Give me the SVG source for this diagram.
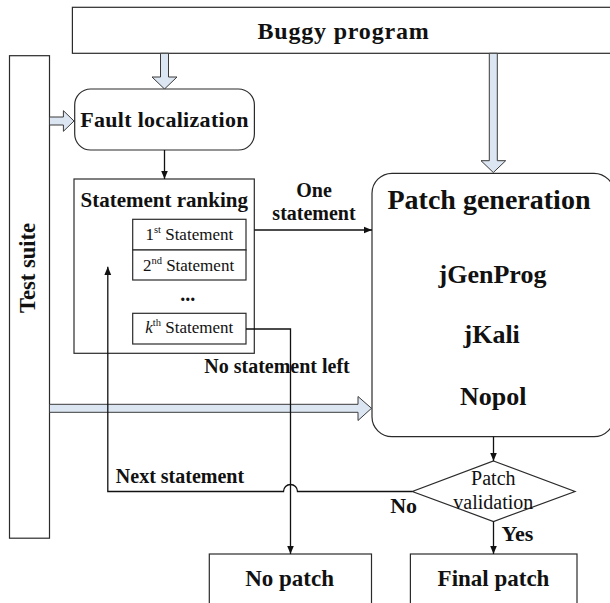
<svg xmlns="http://www.w3.org/2000/svg" width="610" height="603" viewBox="0 0 610 603">
  <style>
    .box { fill: #ffffff; stroke: #2b2b2b; stroke-width: 1.2; }
    .hollow { fill: #dce6f2; stroke: #3a3a3a; stroke-width: 1; }
    .conn { fill: none; stroke: #111111; stroke-width: 1.3; }
    .lbl { font-family: "Liberation Serif", "Times New Roman", serif; font-weight: bold; fill: #111111; }
    .reg { font-family: "Liberation Serif", "Times New Roman", serif; fill: #111111; }
  </style>
  <defs>
    <marker id="arrow" markerWidth="9" markerHeight="8" refX="8.5" refY="4" orient="auto" markerUnits="userSpaceOnUse">
      <path d="M0,0.5 L8.5,4 L0,7.5 z" fill="#111111"/>
    </marker>
  </defs>
  <rect width="610" height="603" fill="#ffffff"/>

  <!-- input nodes -->
  <g id="buggy-program">
    <rect class="box" x="72.4" y="7.3" width="545" height="46"/>
    <text class="lbl" x="343.5" y="38.7" font-size="24" letter-spacing="0.8" text-anchor="middle">Buggy program</text>
  </g>
  <g id="test-suite">
    <rect class="box" x="9.5" y="55.7" width="40" height="482.5"/>
    <text class="lbl" transform="translate(35,268) rotate(-90)" font-size="22.5" text-anchor="middle">Test suite</text>
  </g>

  <!-- wide hollow arrows (data inputs) -->
  <g id="input-arrows">
    <polygon class="hollow" points="160.5,53.3 168.5,53.3 168.5,77 177,77 164.5,89 152,77 160.5,77"/>
    <polygon class="hollow" points="49.5,117 63.4,117 63.4,110.7 74,121 63.4,131.3 63.4,125 49.5,125"/>
    <polygon class="hollow" points="489.3,53.3 497.3,53.3 497.3,160.7 505.7,160.7 493.3,172.5 481,160.7 489.3,160.7"/>
    <polygon class="hollow" points="49.5,404.3 358,404.3 358,396.5 371.5,408.3 358,420.5 358,412.3 49.5,412.3"/>
  </g>

  <g id="fault-localization">
    <rect class="box" x="74.7" y="89" width="179.7" height="61" rx="16" ry="16"/>
    <text class="lbl" x="164.5" y="126.7" font-size="22" letter-spacing="0.3" text-anchor="middle">Fault localization</text>
  </g>

  <g id="statement-ranking">
    <rect class="box" x="74" y="179" width="180.3" height="174.3"/>
    <text class="lbl" x="164.2" y="207.3" font-size="21" text-anchor="middle">Statement ranking</text>
    <rect class="box" x="132.7" y="219.3" width="113.3" height="30.7"/>
    <text class="reg" x="189.3" y="240" font-size="17" text-anchor="middle">1<tspan font-size="10.5" dy="-7">st</tspan><tspan dy="7"> Statement</tspan></text>
    <rect class="box" x="132.7" y="250" width="113.3" height="30"/>
    <text class="reg" x="188.5" y="270.7" font-size="17" text-anchor="middle">2<tspan font-size="10.5" dy="-7">nd</tspan><tspan dy="7"> Statement</tspan></text>
    <text class="lbl" x="187.7" y="301" font-size="20" text-anchor="middle">...</text>
    <rect class="box" x="132.7" y="313.3" width="113.3" height="30.7"/>
    <text class="reg" x="189.3" y="333.3" font-size="17" text-anchor="middle"><tspan font-style="italic">k</tspan><tspan font-size="10.5" dy="-7">th</tspan><tspan dy="7"> Statement</tspan></text>
  </g>

  <g id="patch-generation">
    <rect class="box" x="372" y="173.3" width="242" height="263.4" rx="20" ry="20"/>
    <text class="lbl" x="489" y="209.3" font-size="28" text-anchor="middle">Patch generation</text>
    <text class="lbl" x="492.5" y="282.7" font-size="26" text-anchor="middle">jGenProg</text>
    <text class="lbl" x="491.7" y="343.3" font-size="26" text-anchor="middle">jKali</text>
    <text class="lbl" x="493.3" y="405" font-size="26" text-anchor="middle">Nopol</text>
  </g>

  <g id="patch-validation">
    <polygon class="box" points="493.5,461 575,491.5 493.5,521.5 412.3,491.5"/>
    <text class="reg" x="493.3" y="485" font-size="20" text-anchor="middle">Patch</text>
    <text class="reg" x="493.3" y="509.3" font-size="20" text-anchor="middle">validation</text>
  </g>

  <g id="no-patch">
    <rect class="box" x="209.3" y="554" width="162.2" height="60"/>
    <text class="lbl" x="289.6" y="586" font-size="23" text-anchor="middle">No patch</text>
  </g>

  <g id="final-patch">
    <rect class="box" x="410.4" y="554" width="166.6" height="60"/>
    <text class="lbl" x="493.5" y="586" font-size="23" text-anchor="middle">Final patch</text>
  </g>

  <!-- control-flow connectors -->
  <g id="connectors">
    <path class="conn" d="M164.5,150 V179" marker-end="url(#arrow)"/>
    <path class="conn" d="M254.3,230 H372" marker-end="url(#arrow)"/>
    <path class="conn" d="M246,329 H290.5 V554" marker-end="url(#arrow)"/>
    <path class="conn" d="M412.3,491.5 H297.5 A7,7 0 0 0 283.5,491.5 H107.8 V266.7" marker-end="url(#arrow)"/>
    <path class="conn" d="M493.5,436.7 V461" marker-end="url(#arrow)"/>
    <path class="conn" d="M493.5,521.5 V554" marker-end="url(#arrow)"/>
  </g>

  <!-- connector labels -->
  <g id="labels">
    <text class="lbl" x="314" y="196.7" font-size="20" text-anchor="middle">One</text>
    <text class="lbl" x="314" y="220" font-size="20" text-anchor="middle">statement</text>
    <text class="lbl" x="277" y="373.3" font-size="20" text-anchor="middle">No statement left</text>
    <text class="lbl" x="180" y="483.3" font-size="20" text-anchor="middle">Next statement</text>
    <text class="lbl" x="403.6" y="512.7" font-size="22" text-anchor="middle">No</text>
    <text class="lbl" x="517.5" y="541" font-size="22" text-anchor="middle">Yes</text>
  </g>
</svg>
